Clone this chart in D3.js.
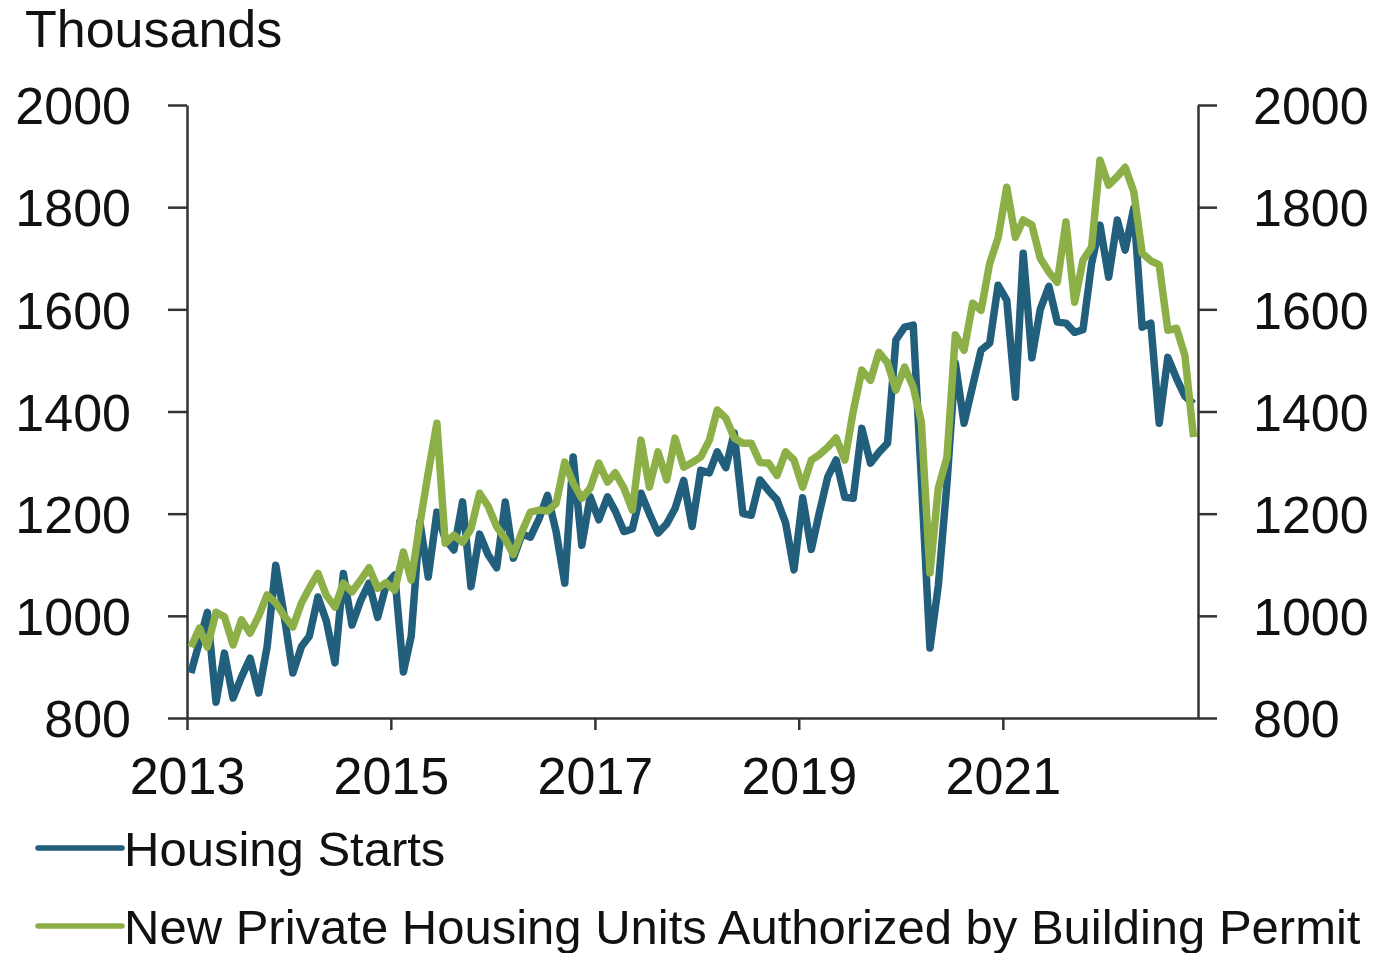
<!DOCTYPE html>
<html lang="en">
<head>
<meta charset="UTF-8">
<title>Housing Starts and Permits</title>
<script src="https://cdn.jsdelivr.net/npm/d3@7"></script>
<style>
  body { margin: 0; background: #fff; }
  text { font-family: "Liberation Sans", Arial, sans-serif; fill: #111; }
</style>
</head>
<body>
<script>

var w = 1375;
var h = 953;

// monthly, Jan 2013 - Nov 2022, thousands of units (SAAR)
var startMonth = "2013-01";
var housingStarts = [
  888, 950, 1007, 831, 927, 839, 880, 917, 849, 940, 1099, 1000,
  888, 940, 960, 1037, 990, 908, 1083, 982, 1030, 1064, 997, 1060,
  1080, 890, 960, 1184, 1076, 1203, 1150, 1129, 1223, 1057, 1160, 1120,
  1094, 1223, 1113, 1160, 1154, 1190, 1236, 1165, 1064, 1311, 1138, 1233,
  1188, 1233, 1205, 1165, 1170, 1240, 1200, 1162, 1180, 1210, 1265, 1175,
  1285, 1280, 1321, 1290, 1358, 1200, 1197, 1266, 1245, 1227, 1182, 1090,
  1231, 1130, 1200, 1272, 1305, 1232, 1230, 1367, 1299, 1320, 1338, 1540,
  1565, 1569, 1270, 937, 1060, 1260, 1495, 1377, 1450, 1520, 1534, 1647,
  1618, 1428, 1710, 1505, 1600, 1645, 1575, 1573, 1555, 1560, 1690, 1765,
  1663, 1775, 1716, 1798, 1565, 1573, 1377, 1506, 1465, 1430, 1415
];
var buildingPermits = [
  939, 976, 939, 1007, 998, 943, 992, 966, 1000, 1041, 1025, 1000,
  978, 1025, 1054, 1083, 1040, 1017, 1064, 1047, 1070, 1094, 1054, 1065,
  1050, 1125, 1070, 1180, 1280, 1377, 1142, 1158, 1144, 1170, 1240, 1215,
  1175, 1150, 1120, 1165, 1203, 1207, 1205, 1220, 1301, 1260, 1230, 1250,
  1299, 1262, 1280, 1250, 1207, 1344, 1252, 1321, 1266, 1348, 1291, 1300,
  1311, 1344, 1403, 1387, 1348, 1338, 1338, 1300, 1299, 1275, 1321, 1305,
  1252, 1305, 1315, 1330, 1348, 1305, 1400, 1481, 1461, 1516, 1495, 1442,
  1487, 1448, 1380, 1084, 1250, 1311, 1550, 1520, 1612, 1598, 1690, 1740,
  1839, 1741, 1775, 1765, 1700, 1673, 1653, 1771, 1614, 1696, 1722, 1892,
  1843, 1860, 1878, 1830, 1710, 1695, 1687, 1559, 1563, 1510, 1350
];
var yTicks = [800, 1000, 1200, 1400, 1600, 1800, 2000];
var xTickYears = [2013, 2015, 2017, 2019, 2021];
var seriesNames = ["Housing Starts", "New Private Housing Units Authorized by Building Permit"];
var seriesColors = ["#215f7c", "#8cb047"];

var parseMonth = d3.timeParse("%Y-%m");
var first = parseMonth(startMonth);
function monthDate(i) {
  // plotted at mid-month
  return d3.timeDay.offset(d3.timeMonth.offset(first, i), 14);
}
var series = [housingStarts, buildingPermits].map(function(vals) {
  return vals.map(function(v, i) { return {date: monthDate(i), value: v}; });
});

var plotLeft = 187, plotRight = 1198, plotTop = 105, plotBottom = 718;

var x = d3.scaleTime()
    .domain([first, d3.timeMonth.offset(first, 119)])
    .range([plotLeft, plotRight]);
var y = d3.scaleLinear()
    .domain([800, 2000])
    .range([plotBottom, plotTop]);

var svg = d3.select("body").append("svg")
    .attr("width", w)
    .attr("height", h);

var fontSize = 52;
var legendFont = 49;

// left axis
var yLeft = svg.append("g")
    .attr("transform", "translate(" + plotLeft + ",0)")
    .call(d3.axisLeft(y).tickValues(yTicks).tickFormat(d3.format("d"))
      .tickSize(19).tickPadding(37).tickSizeOuter(0));
// right axis
var yRight = svg.append("g")
    .attr("transform", "translate(" + plotRight + ",0)")
    .call(d3.axisRight(y).tickValues(yTicks).tickFormat(d3.format("d"))
      .tickSize(19).tickPadding(36).tickSizeOuter(0));
// bottom axis
var xAxis = svg.append("g")
    .attr("transform", "translate(0," + plotBottom + ")")
    .call(d3.axisBottom(x)
      .tickValues(xTickYears.map(function(yr) { return new Date(yr, 0, 1); }))
      .tickFormat(d3.timeFormat("%Y"))
      .tickSize(12).tickPadding(27).tickSizeOuter(0));

[yLeft, yRight, xAxis].forEach(function(g) {
  g.selectAll("path, line").attr("stroke", "#333").attr("stroke-width", 2.5);
  g.selectAll("text")
    .attr("font-size", fontSize)
    .attr("font-family", "Liberation Sans, Arial, sans-serif")
    .attr("fill", "#111");
});
xAxis.selectAll("text").attr("dy", "0.71em");
yLeft.selectAll("text").attr("dy", "0.36em");
yRight.selectAll("text").attr("dy", "0.36em");

// lines
var line = d3.line()
    .x(function(d) { return x(d.date); })
    .y(function(d) { return y(d.value); });

svg.selectAll(".series")
    .data(series)
    .enter()
    .append("path")
    .attr("class", "series")
    .attr("d", line)
    .attr("fill", "none")
    .attr("stroke", function(d, i) { return seriesColors[i]; })
    .attr("stroke-width", 7.5)
    .attr("stroke-linejoin", "round");

// unit label
svg.append("text")
    .attr("x", 25)
    .attr("y", 47)
    .attr("font-size", fontSize)
    .text("Thousands");

// legend
var legend = svg.selectAll(".legend")
    .data(seriesNames)
    .enter()
    .append("g")
    .attr("class", "legend")
    .attr("transform", function(d, i) { return "translate(0," + (848 + i * 78) + ")"; });

legend.append("line")
    .attr("x1", 38).attr("x2", 122)
    .attr("y1", 0).attr("y2", 0)
    .attr("stroke", function(d, i) { return seriesColors[i]; })
    .attr("stroke-width", 5.5)
    .attr("stroke-linecap", "round");

legend.append("text")
    .attr("x", 124)
    .attr("y", 0)
    .attr("dy", "0.36em")
    .attr("font-size", legendFont)
    .text(function(d) { return d; });

</script>
</body>
</html>
